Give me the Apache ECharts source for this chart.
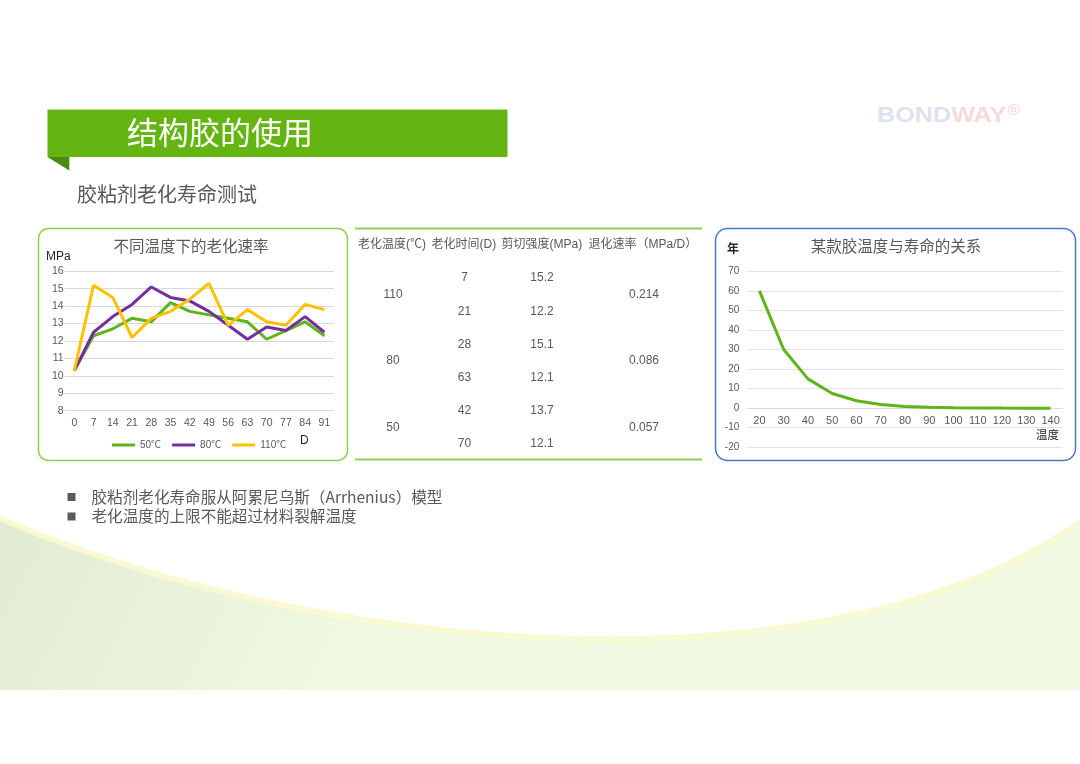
<!DOCTYPE html>
<html>
<head>
<meta charset="utf-8">
<script src="https://cdn.jsdelivr.net/npm/echarts@6/dist/echarts.min.js"></script>
<style>
html,body{margin:0;padding:0;background:#fff;}
#main{width:1080px;height:764px;}
</style>
</head>
<body>
<div id="main"></div>
<script>
// ---- Data ----
var agingDays = ['0','7','14','21','28','35','42','49','56','63','70','77','84','91'];
var series50 = [10.3,12.3,12.7,13.3,13.1,14.2,13.7,13.5,13.3,13.1,12.1,12.6,13.1,12.3];
var series80 = [10.3,12.5,13.4,14.1,15.1,14.5,14.3,13.7,12.9,12.1,12.8,12.6,13.4,12.5];
var series110 = [10.3,15.2,14.5,12.2,13.3,13.7,14.4,15.3,12.9,13.8,13.1,12.9,14.1,13.8];
var seriesNames = ['50℃','80℃','110℃'];

var lifeTemps = ['20','30','40','50','60','70','80','90','100','110','120','130','140'];
var lifeYears = [60,30,15,7.5,3.8,1.9,0.9,0.5,0.25,0.12,0.06,0.03,0.02];

var tableHeaders = ['老化温度(℃)','老化时间(D)','剪切强度(MPa)','退化速率（MPa/D）'];
var tableTemps = ['110','80','50'];
var tableDays = ['7','21','28','63','42','70'];
var tableStrength = ['15.2','12.2','15.1','12.1','13.7','12.1'];
var tableRates = ['0.214','0.086','0.057'];

var bullets = ['胶粘剂老化寿命服从阿累尼乌斯（Arrhenius）模型','老化温度的上限不能超过材料裂解温度'];

// ---- Styles ----
var FONT = 'Arial, "Liberation Sans", "Noto Sans CJK SC", sans-serif';
var CJK = '"Noto Sans CJK SC", "Microsoft YaHei", sans-serif';
var GRAY = '#595959';

var chart = echarts.init(document.getElementById('main'), null, {renderer:'canvas', width:1080, height:764});

// decorative background curve (not data)
function bez(t, p0, p1, p2, p3){
  var u = 1 - t;
  return u*u*u*p0 + 3*u*u*t*p1 + 3*u*t*t*p2 + t*t*t*p3;
}
var curvePts = [];
for (var s = 0; s <= 80; s++) {
  var t = s / 80;
  curvePts.push([bez(t,0,300,820,1080), bez(t,518,650,705,522)]);
}

var graphics = [];
graphics.push({
  type:'polygon', z:-10, silent:true,
  shape:{points:curvePts.concat([[1080,690],[0,690]])},
  style:{fill:{type:'linear',x:0,y:0,x2:0.3,y2:1,colorStops:[{offset:0,color:'#e1ebd2'},{offset:1,color:'#f0f8e1'}]}}
});
graphics.push({
  type:'polyline', z:-9, silent:true,
  shape:{points:curvePts},
  style:{fill:null, stroke:'#faf8d0', lineWidth:6, opacity:0.9}
});
// header banner
graphics.push({type:'rect', shape:{x:47.5,y:109.5,width:460,height:47.5}, style:{fill:'#65b512'}});
graphics.push({type:'polygon', shape:{points:[[47.5,157],[69.3,157],[69.3,170.5]]}, style:{fill:'#4b8a10'}});
graphics.push({type:'text', style:{text:'结构胶的使用', x:127, y:132, font:'31px '+CJK, fill:'#ffffff', textVerticalAlign:'middle'}});
// logo
graphics.push({type:'text', x:877, y:115.5, scaleX:1.12, style:{
  text:'{a|BOND}{b|WAY}{c|®}', x:0, y:0, textVerticalAlign:'middle',
  rich:{a:{font:'bold 22.5px '+FONT, fill:'#dde2ec'}, b:{font:'bold 22.5px '+FONT, fill:'#f8d9d9'}, c:{font:'bold 15px '+FONT, fill:'#f8d9d9', verticalAlign:'top', padding:[0,0,9,1]}}
}});
// subtitle
graphics.push({type:'text', style:{text:'胶粘剂老化寿命测试', x:77, y:194, font:'20px '+CJK, fill:GRAY, textVerticalAlign:'middle'}});

// boxes
graphics.push({type:'rect', shape:{x:38.5,y:228.5,width:309,height:232,r:10}, style:{fill:null, stroke:'#8fd14f', lineWidth:1.5}});
graphics.push({type:'rect', shape:{x:715.5,y:228.5,width:360,height:232,r:12}, style:{fill:null, stroke:'#4a78c8', lineWidth:1.5}});

// table
graphics.push({type:'line', shape:{x1:355,y1:228.5,x2:702,y2:228.5}, style:{stroke:'#92d050', lineWidth:2}});
graphics.push({type:'line', shape:{x1:355,y1:459.5,x2:702,y2:459.5}, style:{stroke:'#92d050', lineWidth:2}});
var headerX = [358, 431.5, 501.5, 588.5];
tableHeaders.forEach(function(h,i){
  graphics.push({type:'text', style:{text:h, x:headerX[i], y:245, font:'12px '+FONT, fill:GRAY, textVerticalAlign:'middle'}});
});
var colX = [393, 464.5, 542, 644];
tableTemps.forEach(function(t,i){
  var cy = 294.7 + i*66.4;
  graphics.push({type:'text', style:{text:t, x:colX[0], y:cy, font:'12px '+FONT, fill:GRAY, textAlign:'center', textVerticalAlign:'middle'}});
  graphics.push({type:'text', style:{text:tableRates[i], x:colX[3], y:cy, font:'12px '+FONT, fill:GRAY, textAlign:'center', textVerticalAlign:'middle'}});
  for (var k=0;k<2;k++){
    var ry = cy + (k===0 ? -16.6 : 16.6);
    graphics.push({type:'text', style:{text:tableDays[i*2+k], x:colX[1], y:ry, font:'12px '+FONT, fill:GRAY, textAlign:'center', textVerticalAlign:'middle'}});
    graphics.push({type:'text', style:{text:tableStrength[i*2+k], x:colX[2], y:ry, font:'12px '+FONT, fill:GRAY, textAlign:'center', textVerticalAlign:'middle'}});
  }
});

// axis name texts
graphics.push({type:'text', style:{text:'MPa', x:46, y:257, font:'12px '+FONT, fill:'#262626', textVerticalAlign:'middle'}});
graphics.push({type:'text', style:{text:'D', x:300, y:441, font:'12px '+FONT, fill:'#262626', textVerticalAlign:'middle'}});
graphics.push({type:'text', style:{text:'年', x:727, y:248, font:'bold 12px '+CJK, fill:'#262626', textVerticalAlign:'middle'}});
graphics.push({type:'text', style:{text:'温度', x:1036, y:435, font:'11.5px '+CJK, fill:'#262626', textVerticalAlign:'middle'}});

// bullets
bullets.forEach(function(b,i){
  var by = 497 + i*19.5;
  graphics.push({type:'rect', shape:{x:67.5,y:by-4,width:8,height:8}, style:{fill:GRAY}});
  graphics.push({type:'text', style:{text:b, x:91.5, y:by, font:'15.6px '+CJK, fill:GRAY, textVerticalAlign:'middle'}});
});

var lineColors = ['#5fb31b','#7030a0','#ffc000'];
var seriesData = [series50, series80, series110];

// right grid geometry: zero line sits 20/90 of the height above the bottom
var rgTop = 271.3, rgH = 176;
var zeroOffset = -rgH * 20 / 90;

var option = {
  backgroundColor:'#ffffff',
  animation:false,
  textStyle:{fontFamily:FONT},
  title:[
    {text:'不同温度下的老化速率', left:191, top:238, textAlign:'center', padding:0,
     textStyle:{fontSize:15.5, fontWeight:'normal', color:GRAY, fontFamily:CJK}},
    {text:'某款胶温度与寿命的关系', left:896, top:238, textAlign:'center', padding:0,
     textStyle:{fontSize:15.5, fontWeight:'normal', color:GRAY, fontFamily:CJK}}
  ],
  legend:{
    data:seriesNames, left:112, top:440, icon:'rect', itemWidth:23, itemHeight:3, itemGap:11,
    textStyle:{fontSize:10, color:GRAY, fontFamily:FONT}, padding:0
  },
  grid:[
    {left:64.7, top:271.3, width:269.3, height:139.4, containLabel:false, outerBoundsMode:'none'},
    {left:747.3, top:rgTop, width:315.4, height:rgH, containLabel:false, outerBoundsMode:'none'}
  ],
  xAxis:[
    {type:'category', gridIndex:0, data:agingDays, boundaryGap:true,
     axisLine:{show:false}, axisTick:{show:false},
     axisLabel:{interval:0, fontSize:10.5, color:GRAY, margin:7}},
    {type:'category', gridIndex:1, data:lifeTemps, boundaryGap:true, offset:zeroOffset,
     axisLine:{show:true, onZero:false, lineStyle:{color:'#d9d9d9'}}, axisTick:{show:false},
     axisLabel:{interval:0, fontSize:11, color:GRAY, margin:7}}
  ],
  yAxis:[
    {type:'value', gridIndex:0, min:8, max:16, interval:1,
     axisLine:{show:false}, axisTick:{show:false},
     axisLabel:{fontSize:10.5, color:GRAY, margin:1},
     splitLine:{lineStyle:{color:'#d9d9d9'}}},
    {type:'value', gridIndex:1, min:-20, max:70, interval:10,
     axisLine:{show:false}, axisTick:{show:false},
     axisLabel:{fontSize:10, color:GRAY, margin:8},
     splitLine:{lineStyle:{color:'#e3e3e3'}}}
  ],
  series: seriesNames.map(function(n,i){
    return {name:n, type:'line', xAxisIndex:0, yAxisIndex:0, data:seriesData[i],
      showSymbol:false, symbol:'none', lineStyle:{width:3, color:lineColors[i]}, itemStyle:{color:lineColors[i]}};
  }).concat([
    {name:'寿命', type:'line', xAxisIndex:1, yAxisIndex:1, data:lifeYears,
     showSymbol:false, symbol:'none', lineStyle:{width:3, color:'#5fb31b'}, itemStyle:{color:'#5fb31b'}}
  ]),
  graphic:{elements:graphics}
};
chart.setOption(option);
</script>
</body>
</html>
